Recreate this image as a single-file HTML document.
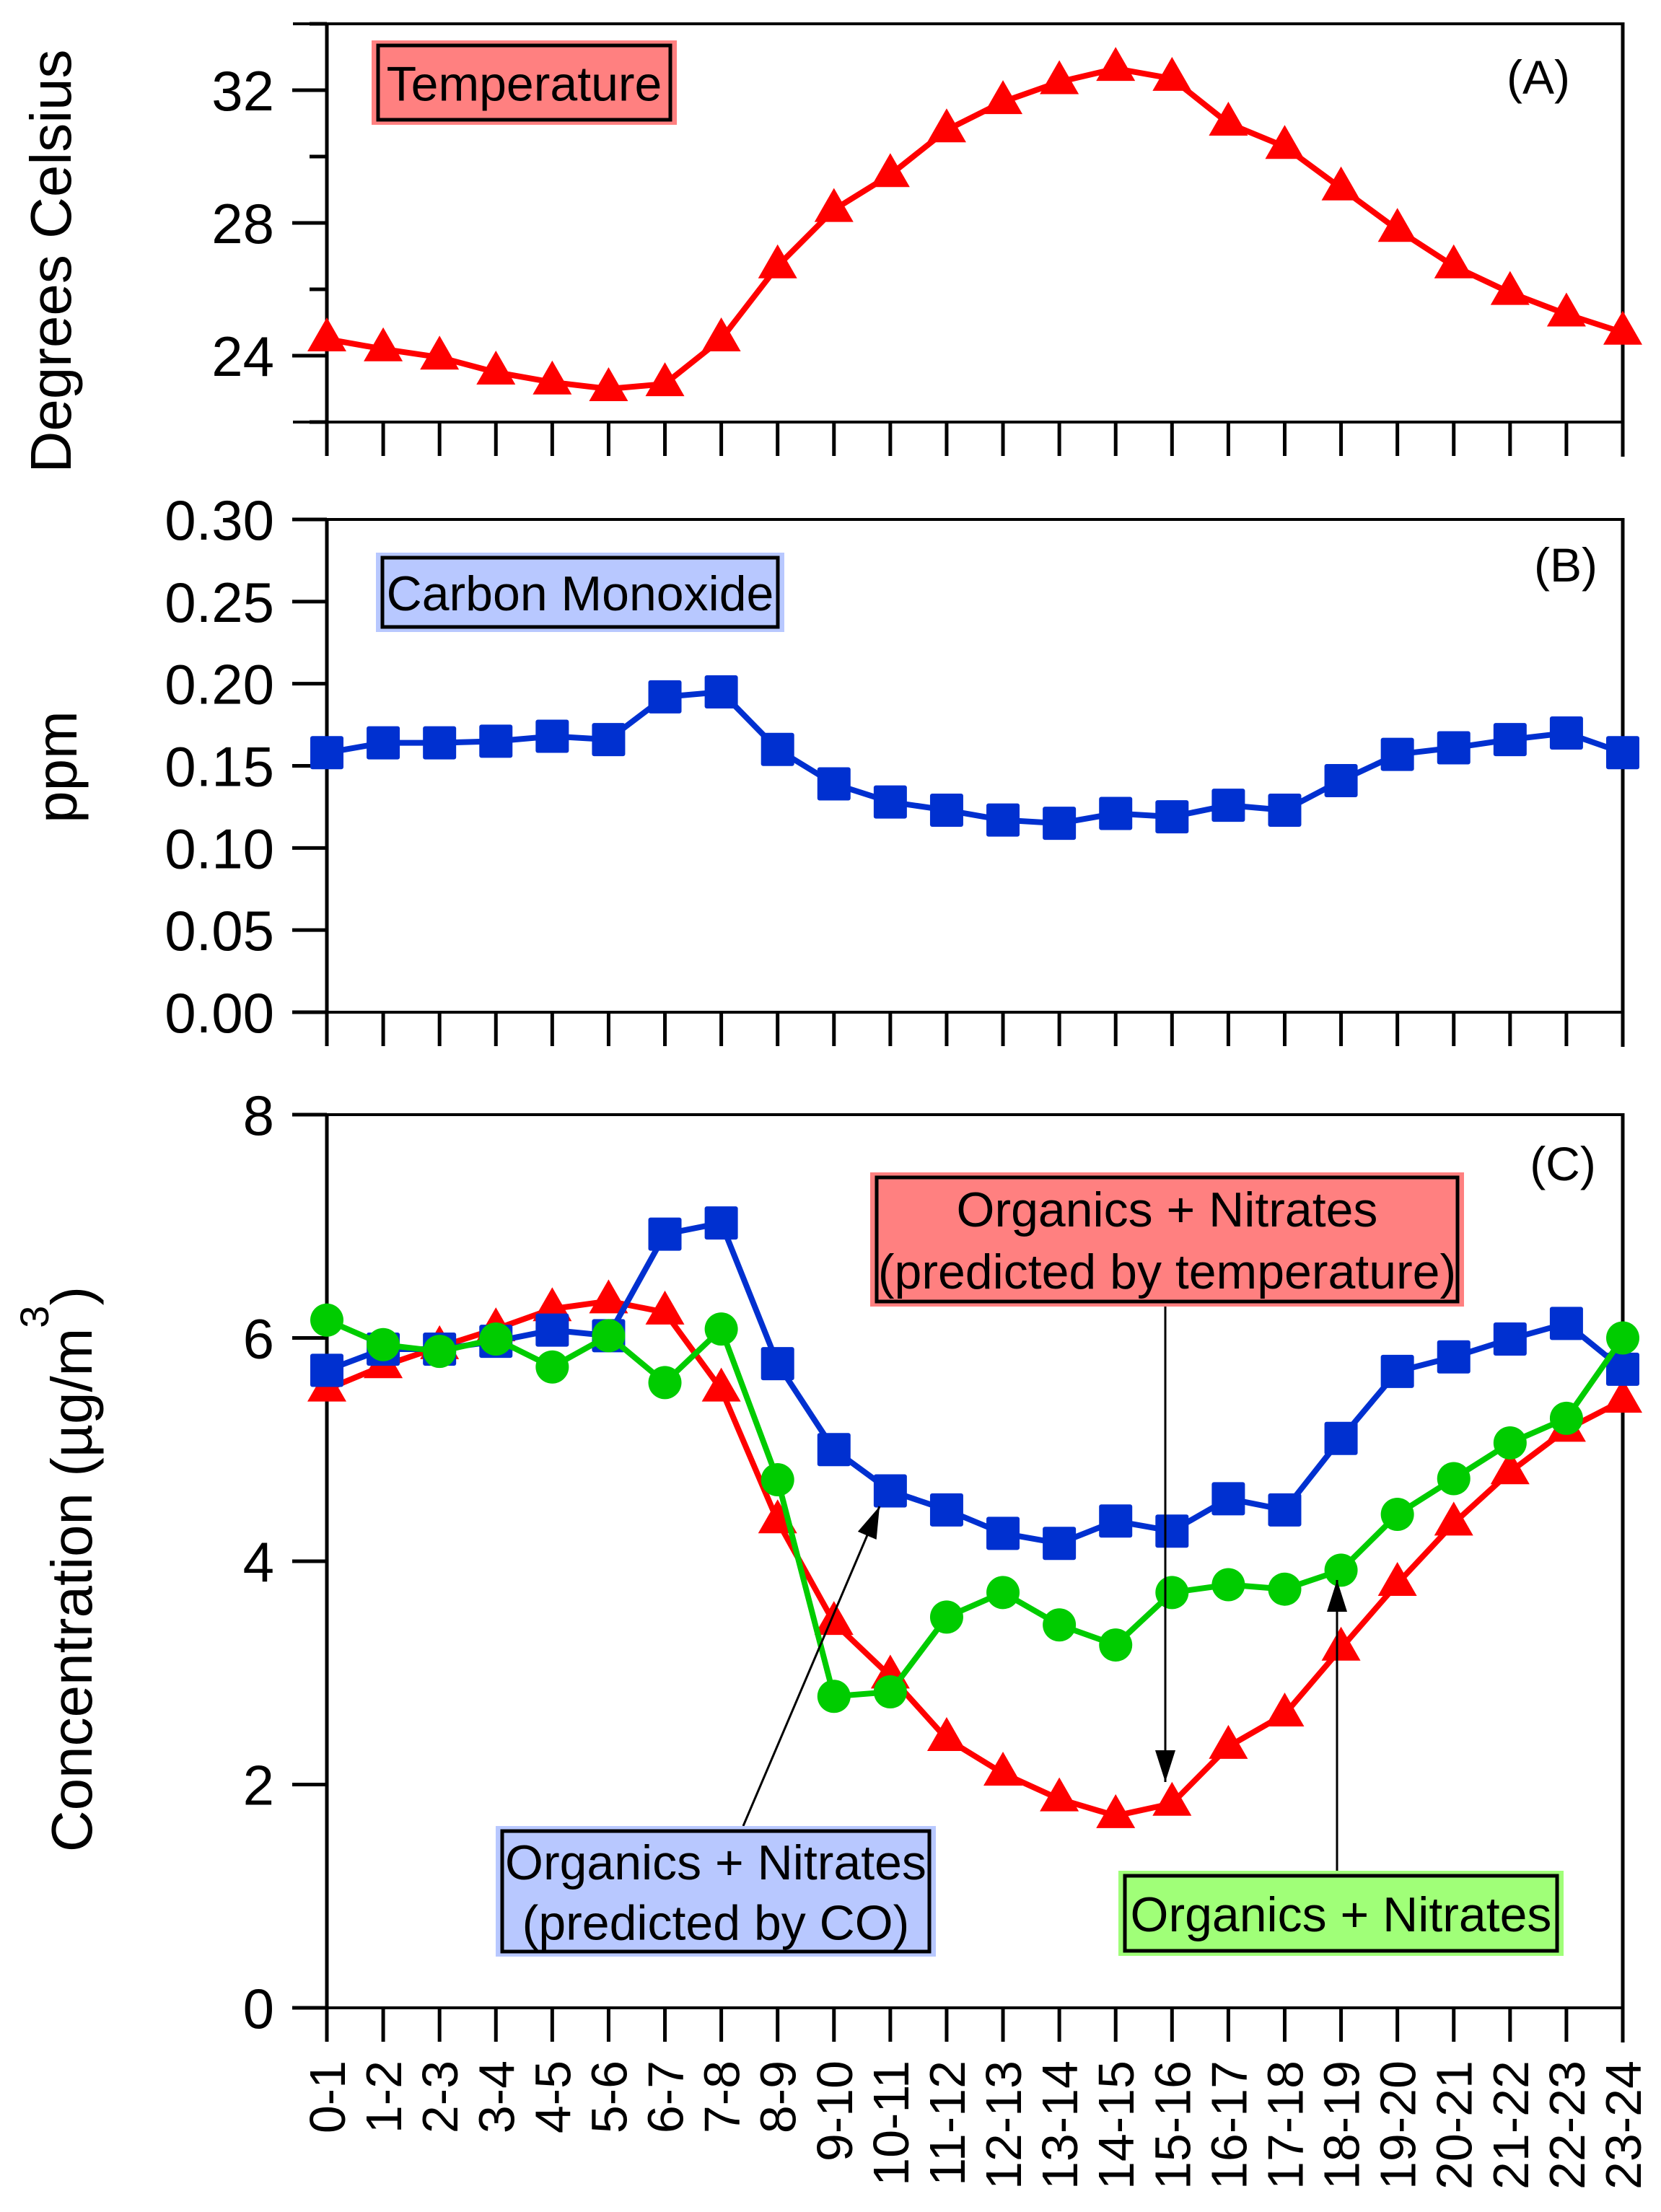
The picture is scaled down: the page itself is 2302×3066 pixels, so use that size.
<!DOCTYPE html>
<html><head><meta charset="utf-8"><style>
html,body{margin:0;padding:0;background:#fff;}
svg{display:block;font-family:"Liberation Sans",Arial,sans-serif;}
</style></head><body>
<svg id="chart" width="2302" height="3066" viewBox="0 0 2302 3066" xmlns="http://www.w3.org/2000/svg">
<defs>
<marker id="ah" markerWidth="44" markerHeight="28" refX="44" refY="14" orient="auto" markerUnits="userSpaceOnUse" viewBox="0 0 44 28">
<path d="M0,0 L44,14 L0,28 Z" fill="#000"/>
</marker>
</defs>
<g id="root"></g>
</svg>
<script>
const categories = ["0-1","1-2","2-3","3-4","4-5","5-6","6-7","7-8","8-9","9-10","10-11","11-12","12-13","13-14","14-15","15-16","16-17","17-18","18-19","19-20","20-21","21-22","22-23","23-24"];
const temperature = [24.5,24.2,23.95,23.5,23.2,23.0,23.15,24.5,26.7,28.4,29.45,30.8,31.65,32.25,32.65,32.35,31.0,30.3,29.05,27.8,26.7,25.9,25.25,24.7];
const carbonMonoxide = [0.158,0.164,0.164,0.165,0.168,0.166,0.192,0.195,0.160,0.139,0.128,0.123,0.117,0.115,0.121,0.119,0.126,0.123,0.141,0.157,0.161,0.166,0.170,0.158];
const predictedByCO = [5.71,5.9,5.9,5.97,6.07,6.02,6.93,7.03,5.77,5.0,4.63,4.46,4.25,4.16,4.36,4.27,4.56,4.46,5.1,5.7,5.83,5.99,6.13,5.72];
const measured = [6.16,5.94,5.88,5.99,5.74,6.02,5.6,6.08,4.73,2.79,2.83,3.5,3.72,3.43,3.25,3.72,3.79,3.75,3.92,4.42,4.74,5.06,5.28,6.0];
const predictedByTemp = [5.54,5.75,5.92,6.08,6.26,6.33,6.23,5.54,4.36,3.45,2.97,2.41,2.1,1.87,1.72,1.83,2.34,2.63,3.22,3.8,4.34,4.8,5.18,5.44];
const tempTicks = [24,28,32];
const coTicks = ["0.00","0.05","0.10","0.15","0.20","0.25","0.30"];
const concTicks = [0,2,4,6,8];

const NS = "http://www.w3.org/2000/svg";
const root = document.getElementById('root');
function mk(tag, attrs, parent, text){
  const e = document.createElementNS(NS, tag);
  for (const k in attrs) e.setAttribute(k, attrs[k]);
  if (text !== undefined) e.textContent = text;
  (parent || root).appendChild(e);
  return e;
}
const X0 = 453, X1 = 2249;
function xs(i){ return X0 + i * (X1 - X0) / (categories.length - 1); }
function scale(v0, v1, p0, p1){ return v => p0 + (v - v0) * (p1 - p0) / (v1 - v0); }
const yA = scale(22, 34, 585, 33);
const yB = scale(0, 0.30, 1403, 720);
const yC = scale(0, 8, 2783, 1545);

function frame(top, bottom, name){
  const g = mk('g', {});
  
  
  mk('line', {x1:X0-47, y1:top, x2:X1+2, y2:top, stroke:'#000','stroke-width':4}, g);
  mk('line', {x1:X0-47, y1:bottom, x2:X1+2, y2:bottom, stroke:'#000','stroke-width':4}, g);
  mk('line', {x1:X0, y1:top-2, x2:X0, y2:bottom+2, stroke:'#000','stroke-width':5}, g);
  mk('line', {x1:X1, y1:top-2, x2:X1, y2:bottom+48, stroke:'#000','stroke-width':5}, g);
  categories.forEach((c,i)=>{
    const t = mk('line', {x1:xs(i), y1:bottom, x2:xs(i), y2:bottom+47, stroke:'#000','stroke-width':5}, g);
    
    
  });
}
function ytick(y, major, g){
  mk('line', {x1: major ? X0-48 : X0-24, y1:y, x2:X0, y2:y, stroke:'#000','stroke-width':5}, g);
}
function ylabel(y, txt, g){
  const t = mk('text', {x:380, y:y+28, 'text-anchor':'end', 'font-size':78}, g, txt);
  
  
}
function axisTitle(cx, cy, txt, name){
  const t = mk('text', {x:0, y:0, 'text-anchor':'middle', 'font-size':80, transform:`translate(${cx},${cy}) rotate(-90)`}, root, txt);
  
  
  return t;
}
function labelBox(x, y, w, h, fill, lines, name, fs){
  const g = mk('g', {});
  
  
  mk('rect', {x:x, y:y, width:w, height:h, fill:fill}, g);
  mk('rect', {x:x+9, y:y+7, width:w-18, height:h-14, fill:'none', stroke:'#000', 'stroke-width':5}, g);
  const lh = (h-14) / lines.length;
  lines.forEach((l,k)=>{
    mk('text', {x:x+w/2, y:y+7+lh*(k+0.5)+25, 'text-anchor':'middle', 'font-size':fs||70}, g, l);
  });
}
function series(vals, ys, color, marker, name){
  const g = mk('g', {});
  
  
  const pts = vals.map((v,i)=>xs(i)+','+ys(v)).join(' ');
  mk('polyline', {points:pts, fill:'none', stroke:color, 'stroke-width':8, 'stroke-linejoin':'round'}, g);
  vals.forEach((v,i)=>{
    const x = xs(i), y = ys(v);
    let m;
    if (marker === 'tri') m = mk('polygon', {points:`${x},${y-30} ${x-27},${y+17} ${x+27},${y+17}`, fill:color}, g);
    else if (marker === 'sq') m = mk('rect', {x:x-23, y:y-23, width:46, height:46, rx:3, fill:color}, g);
    else m = mk('circle', {cx:x, cy:y, r:23, fill:color}, g);
    
    
  });
}

// Panel A
frame(33, 585, 'panel-a');
const gA = mk('g', {});


[22,26,30,34].forEach(v=>ytick(yA(v), false, gA));
tempTicks.forEach(v=>{ ytick(yA(v), true, gA); ylabel(yA(v), String(v), gA); });
axisTitle(98, 362, 'Degrees Celsius', 'panel-a-y-title');
labelBox(515, 56, 423, 117, '#ff8080', ['Temperature'], 'temperature-label', 68);
const la = mk('text', {x:2132, y:130, 'text-anchor':'middle', 'font-size':66}, root, '(A)');


series(temperature, yA, '#ff0000', 'tri', 'temperature-series');

// Panel B
frame(720, 1403, 'panel-b');
const gB = mk('g', {});


coTicks.forEach(s=>{ const v = parseFloat(s); ytick(yB(v), true, gB); ylabel(yB(v), s, gB); });
axisTitle(106, 1063, 'ppm', 'panel-b-y-title');
labelBox(521, 766, 566, 110, '#b8c8ff', ['Carbon Monoxide'], 'carbon-monoxide-label', 68);
const lb = mk('text', {x:2170, y:806, 'text-anchor':'middle', 'font-size':66}, root, '(B)');


series(carbonMonoxide, yB, '#0030d0', 'sq', 'co-series');

// Panel C
frame(1545, 2783, 'panel-c');
const gC = mk('g', {});


concTicks.forEach(v=>{ ytick(yC(v), true, gC); ylabel(yC(v), String(v), gC); });
const tc = axisTitle(127, 2175, '', 'panel-c-y-title');
mk('tspan', {}, tc, 'Concentration (µg/m');
mk('tspan', {dy:-60, 'font-size':56}, tc, '3');
mk('tspan', {dy:60}, tc, ')');
const lc = mk('text', {x:2166, y:1636, 'text-anchor':'middle', 'font-size':66}, root, '(C)');



series(predictedByTemp, yC, '#ff0000', 'tri', 'predicted-by-temperature-series');
series(predictedByCO, yC, '#0030d0', 'sq', 'predicted-by-co-series');
series(measured, yC, '#00cc00', 'circle', 'measured-series');

// annotations arrows
const arrows = [[1615,1811,1615,2470,'temp-arrow'],[1853,2594,1853,2190,'measured-arrow'],[1030,2531,1219,2088,'co-arrow']];
arrows.forEach(a=>{
  const l = mk('line', {x1:a[0], y1:a[1], x2:a[2], y2:a[3], stroke:'#000','stroke-width':3,'marker-end':'url(#ah)'});
  
  
});
labelBox(1206, 1625, 823, 186, '#ff8080', ['Organics + Nitrates','(predicted by temperature)'], 'predicted-by-temperature-label', 68);
labelBox(687, 2531, 610, 181, '#b8c8ff', ['Organics + Nitrates','(predicted by CO)'], 'predicted-by-co-label', 68);
labelBox(1550, 2593, 617, 118, '#a0ff78', ['Organics + Nitrates'], 'measured-label', 68);

// x tick labels
categories.forEach((c,i)=>{
  const t = mk('text', {x:0, y:0, 'text-anchor':'end', 'font-size':70, transform:`translate(${xs(i)+25},2856) rotate(-90)`}, root, c);
  
  
});
</script>
</body></html>
